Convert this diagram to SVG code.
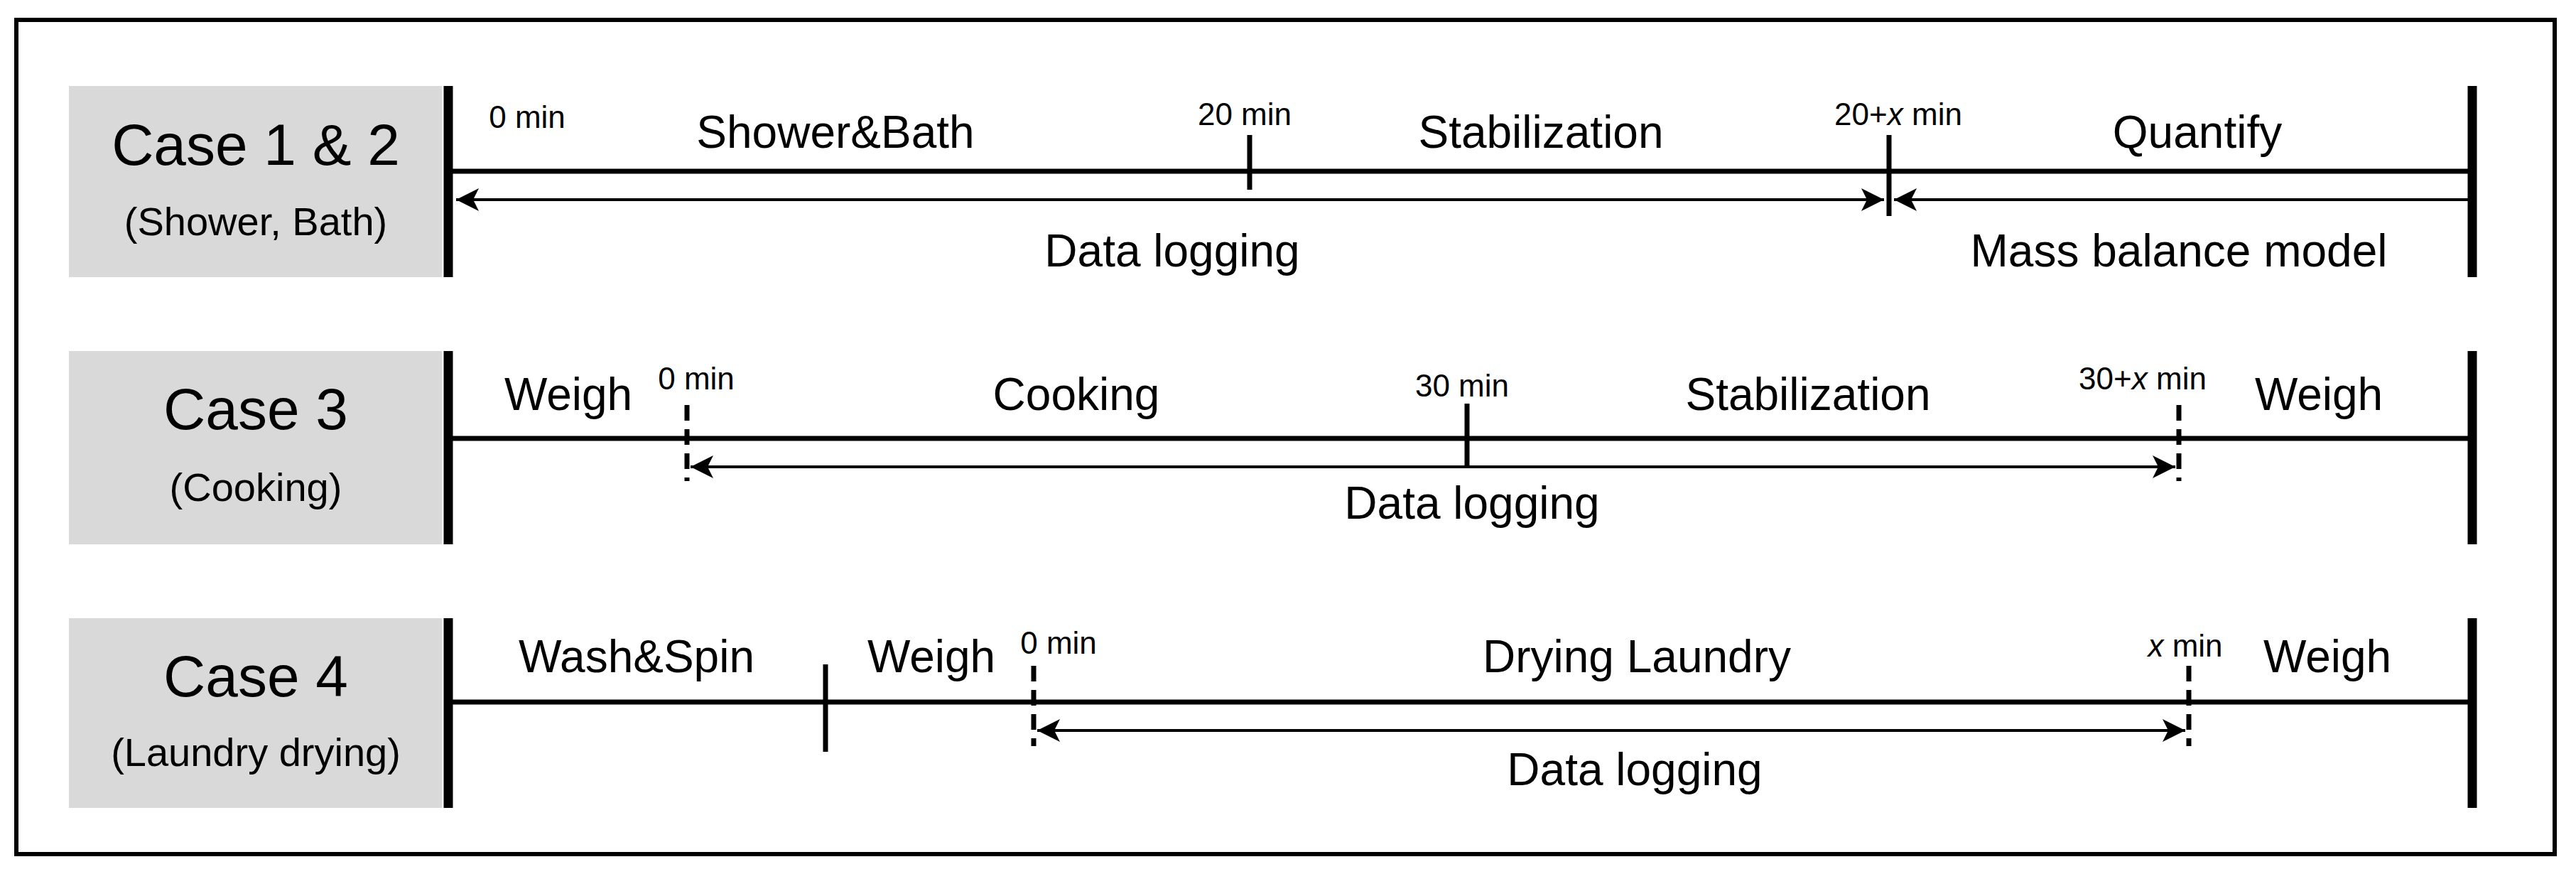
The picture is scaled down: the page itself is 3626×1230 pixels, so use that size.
<svg xmlns="http://www.w3.org/2000/svg" width="3626" height="1230" viewBox="0 0 3626 1230">
<style>
text{font-family:"Liberation Sans",Arial,sans-serif;fill:#000;text-anchor:middle}
.l{font-size:64px}.s{font-size:44px}.c{font-size:82px}.p{font-size:56px}
.box{fill:#d9d9d9}
.bar{stroke:#000;stroke-width:13}
.main{stroke:#000;stroke-width:7}
.tick{stroke:#000;stroke-width:7}
.dash{stroke:#000;stroke-width:7;stroke-dasharray:22 12}
.arr{stroke:#000;stroke-width:4;fill:none}
</style>
<defs>
<marker id="ah" viewBox="0 0 20 20" refX="20" refY="10" markerWidth="8" markerHeight="8" markerUnits="strokeWidth" orient="auto-start-reverse"><path d="M0,0L20,10L0,20L5,10Z" fill="#000"/></marker>
</defs>
<rect x="23" y="28" width="3573" height="1174" fill="#fff" stroke="#000" stroke-width="6"/>
<g id="case12">
<rect class="box" x="97" y="121" width="525" height="269"/>
<text class="c" x="360" y="232">Case 1 &amp; 2</text>
<text class="p" x="360" y="331">(Shower, Bath)</text>
<line class="bar" x1="631" y1="121" x2="631" y2="390"/>
<line class="bar" x1="3480" y1="121" x2="3480" y2="390"/>
<line class="main" x1="631" y1="241" x2="3480" y2="241"/>
<line class="tick" x1="1759" y1="190" x2="1759" y2="267"/>
<line class="tick" x1="2659" y1="190" x2="2659" y2="304" stroke-width="8"/>
<text class="s" x="742" y="180">0 min</text>
<text class="l" x="1176" y="208">Shower&amp;Bath</text>
<text class="s" x="1752" y="176">20 min</text>
<text class="l" x="2169" y="208">Stabilization</text>
<text class="s" x="2672" y="176">20+<tspan font-style="italic">x</tspan> min</text>
<text class="l" x="3093" y="208">Quantify</text>
<text class="l" x="1650" y="375">Data logging</text>
<text class="l" x="3067" y="375">Mass balance model</text>
</g>
<g id="case3">
<rect class="box" x="97" y="494" width="525" height="272"/>
<text class="c" x="360" y="604">Case 3</text>
<text class="p" x="360" y="705">(Cooking)</text>
<line class="bar" x1="631" y1="494" x2="631" y2="766"/>
<line class="bar" x1="3480" y1="494" x2="3480" y2="766"/>
<line class="main" x1="631" y1="617" x2="3480" y2="617"/>
<line class="dash" x1="967" y1="570" x2="967" y2="677"/>
<line class="tick" x1="2065" y1="568" x2="2065" y2="657"/>
<line class="dash" x1="3067" y1="570" x2="3067" y2="677"/>
<text class="l" x="800" y="577">Weigh</text>
<text class="s" x="980" y="548">0 min</text>
<text class="l" x="1515" y="577">Cooking</text>
<text class="s" x="2058" y="558">30 min</text>
<text class="l" x="2545" y="577">Stabilization</text>
<text class="s" x="3016" y="548">30+<tspan font-style="italic">x</tspan> min</text>
<text class="l" x="3264" y="577">Weigh</text>
<text class="l" x="2072" y="730">Data logging</text>
</g>
<g id="case4">
<rect class="box" x="97" y="870" width="525" height="267"/>
<text class="c" x="360" y="980">Case 4</text>
<text class="p" x="360" y="1078">(Laundry drying)</text>
<line class="bar" x1="631" y1="870" x2="631" y2="1137"/>
<line class="bar" x1="3480" y1="870" x2="3480" y2="1137"/>
<line class="main" x1="631" y1="988" x2="3480" y2="988"/>
<line class="tick" x1="1162" y1="935" x2="1162" y2="1058"/>
<line class="dash" x1="1455" y1="937" x2="1455" y2="1050"/>
<line class="dash" x1="3081" y1="937" x2="3081" y2="1050"/>
<text class="l" x="896" y="946">Wash&amp;Spin</text>
<text class="l" x="1311" y="946">Weigh</text>
<text class="s" x="1490" y="920">0 min</text>
<text class="l" x="2304" y="946">Drying Laundry</text>
<text class="s" x="3076" y="924"><tspan font-style="italic">x</tspan> min</text>
<text class="l" x="3276" y="946">Weigh</text>
<text class="l" x="2301" y="1105">Data logging</text>
</g>
<g id="connectors">
<line class="arr" x1="642" y1="281" x2="2652" y2="281" marker-start="url(#ah)" marker-end="url(#ah)"/>
<line class="arr" x1="3474" y1="281" x2="2666" y2="281" marker-end="url(#ah)"/>
<line class="arr" x1="972" y1="657" x2="3062" y2="657" marker-start="url(#ah)" marker-end="url(#ah)"/>
<line class="arr" x1="1460" y1="1028" x2="3076" y2="1028" marker-start="url(#ah)" marker-end="url(#ah)"/>
</g>
</svg>
